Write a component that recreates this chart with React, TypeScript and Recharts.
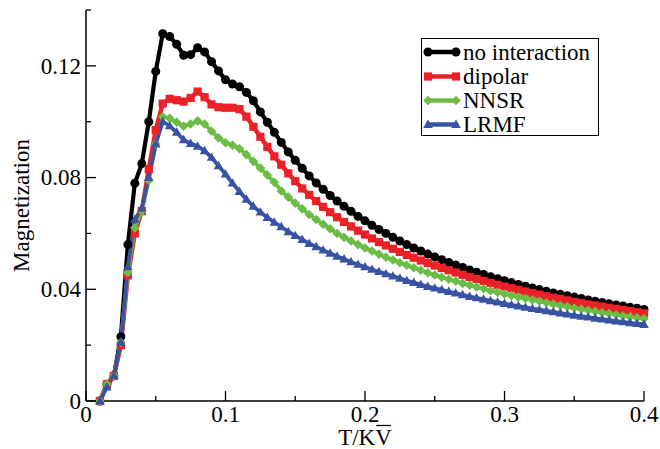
import React from 'react';
import { LineChart, Line, XAxis, YAxis, Legend } from 'recharts';

const T = [0.01, 0.015, 0.02, 0.025, 0.03, 0.035, 0.04, 0.045, 0.05, 0.055, 0.06, 0.065, 0.07, 0.075,
  0.08, 0.085, 0.09, 0.095, 0.1, 0.105, 0.11, 0.115, 0.12, 0.125, 0.13, 0.135, 0.14, 0.145,
  0.15, 0.155, 0.16, 0.165, 0.17, 0.175, 0.18, 0.185, 0.19, 0.195, 0.2, 0.205, 0.21, 0.215,
  0.22, 0.225, 0.23, 0.235, 0.24, 0.245, 0.25, 0.255, 0.26, 0.265, 0.27, 0.275, 0.28, 0.285,
  0.29, 0.295, 0.3, 0.305, 0.31, 0.315, 0.32, 0.325, 0.33, 0.335, 0.34, 0.345, 0.35, 0.355,
  0.36, 0.365, 0.37, 0.375, 0.38, 0.385, 0.39, 0.395, 0.4];

const noInteraction = [0, 0.006, 0.009, 0.023, 0.056, 0.078, 0.085, 0.100, 0.118, 0.1315, 0.1305, 0.1277, 0.1238, 0.1240,
  0.1265, 0.1250, 0.1215, 0.1182, 0.1150, 0.1135, 0.1125, 0.1105, 0.1075, 0.1035, 0.0998, 0.0962, 0.0926, 0.0892,
  0.0862, 0.0833, 0.0806, 0.0781, 0.0758, 0.0736, 0.0716, 0.0697, 0.0679, 0.0661, 0.0645, 0.0629, 0.0614, 0.0600,
  0.0586, 0.0573, 0.0560, 0.0548, 0.0537, 0.0526, 0.0516, 0.0506, 0.0496, 0.0487, 0.0478, 0.0469, 0.0461, 0.0453,
  0.0445, 0.0438, 0.0431, 0.0424, 0.0417, 0.0411, 0.0405, 0.0399, 0.0393, 0.0387, 0.0382, 0.0377, 0.0372, 0.0367,
  0.0362, 0.0357, 0.0353, 0.0348, 0.0344, 0.0340, 0.0336, 0.0332, 0.0328];

const dipolar = [0, 0.006, 0.009, 0.020, 0.045, 0.060, 0.068, 0.083, 0.097, 0.1065, 0.1082, 0.1077, 0.1072, 0.1085,
  0.1108, 0.1088, 0.1062, 0.1052, 0.1050, 0.1050, 0.1045, 0.1018, 0.0982, 0.0946, 0.0910, 0.0876, 0.0846, 0.0815,
  0.0787, 0.0761, 0.0738, 0.0716, 0.0695, 0.0676, 0.0658, 0.0641, 0.0625, 0.0610, 0.0596, 0.0582, 0.0569, 0.0557,
  0.0545, 0.0534, 0.0523, 0.0513, 0.0503, 0.0494, 0.0485, 0.0476, 0.0468, 0.0460, 0.0452, 0.0444, 0.0437, 0.0430,
  0.0423, 0.0416, 0.0410, 0.0404, 0.0398, 0.0392, 0.0386, 0.0381, 0.0375, 0.0370, 0.0365, 0.0360, 0.0355, 0.0351,
  0.0346, 0.0342, 0.0338, 0.0334, 0.0330, 0.0326, 0.0322, 0.0318, 0.0314];

const nnsr = [0, 0.006, 0.009, 0.021, 0.046, 0.062, 0.068, 0.079, 0.092, 0.1018, 0.1012, 0.0998, 0.0984, 0.0992,
  0.1003, 0.0992, 0.0966, 0.0942, 0.0925, 0.0916, 0.0903, 0.0882, 0.0858, 0.0834, 0.0809, 0.0783, 0.0752, 0.0730,
  0.0708, 0.0688, 0.0668, 0.0650, 0.0633, 0.0617, 0.0600, 0.0586, 0.0573, 0.0560, 0.0548, 0.0537, 0.0526, 0.0515,
  0.0505, 0.0495, 0.0486, 0.0477, 0.0468, 0.0459, 0.0451, 0.0443, 0.0436, 0.0429, 0.0421, 0.0415, 0.0408, 0.0402,
  0.0395, 0.0389, 0.0383, 0.0378, 0.0372, 0.0367, 0.0362, 0.0357, 0.0352, 0.0347, 0.0342, 0.0338, 0.0333, 0.0329,
  0.0325, 0.0321, 0.0317, 0.0313, 0.0309, 0.0305, 0.0302, 0.0298, 0.0295];

const lrmf = [0, 0.005, 0.009, 0.021, 0.048, 0.065, 0.069, 0.080, 0.092, 0.1000, 0.0985, 0.0962, 0.0935, 0.0922,
  0.0912, 0.0896, 0.0872, 0.0842, 0.0812, 0.0780, 0.0750, 0.0722, 0.0697, 0.0676, 0.0657, 0.0640, 0.0624, 0.0606,
  0.0592, 0.0578, 0.0564, 0.0552, 0.0540, 0.0529, 0.0518, 0.0508, 0.0498, 0.0489, 0.0480, 0.0471, 0.0463, 0.0455,
  0.0447, 0.0439, 0.0431, 0.0424, 0.0417, 0.0410, 0.0404, 0.0398, 0.0392, 0.0386, 0.0380, 0.0374, 0.0369, 0.0364,
  0.0359, 0.0354, 0.0349, 0.0344, 0.0340, 0.0335, 0.0331, 0.0327, 0.0323, 0.0319, 0.0315, 0.0311, 0.0307, 0.0303,
  0.0300, 0.0296, 0.0293, 0.0290, 0.0286, 0.0283, 0.0280, 0.0277, 0.0274];

const xTicks = [0, 0.05, 0.1, 0.15, 0.2, 0.25, 0.3, 0.35, 0.4];
const xTickLabels = ['0', '', '0.1', '', '0.2', '', '0.3', '', '0.4'];
const yTicks = [0, 0.02, 0.04, 0.06, 0.08, 0.1, 0.12, 0.14];
const yTickLabels = ['0', '', '0.04', '', '0.08', '', '0.12', ''];

const seriesNames = ['no interaction', 'dipolar', 'NNSR', 'LRMF'];
const COLORS = ['#000000', '#ec2027', '#6cbd45', '#3953a4'];

const data = T.map((t, i) => ({ t, a: noInteraction[i], b: dipolar[i], c: nnsr[i], d: lrmf[i] }));

const FONT = 'Liberation Serif, DejaVu Serif, Times New Roman, serif';
const FS = 23;
const MAJ = 10;
const MIN = 5;
const txtStyle = { fontFamily: FONT, fontSize: FS } as React.CSSProperties;

const idxOf = (arr: number[], v: number) => arr.findIndex((a) => Math.abs(a - v) < 1e-9);

const BottomTick = (p: any) => {
  const i = idxOf(xTicks, p.payload.value);
  const lab = xTickLabels[i] || '';
  const len = lab ? MAJ : MIN;
  return (
    <g>
      <line x1={p.x} y1={p.y} x2={p.x} y2={p.y - len} stroke="#000" strokeWidth={1.3} />
      {lab && (
        <text x={p.x} y={p.y + 20.5} textAnchor="middle" style={txtStyle} fill="#000">{lab}</text>
      )}
    </g>
  );
};

const TopTick = (p: any) => {
  const i = idxOf(xTicks, p.payload.value);
  const len = xTickLabels[i] ? MAJ : MIN;
  return <line x1={p.x} y1={p.y} x2={p.x} y2={p.y + len} stroke="#000" strokeWidth={1.3} />;
};

const LeftTick = (p: any) => {
  const i = idxOf(yTicks, p.payload.value);
  const lab = yTickLabels[i] || '';
  const len = lab ? MAJ : MIN;
  return (
    <g>
      <line x1={p.x} y1={p.y} x2={p.x + len} y2={p.y} stroke="#000" strokeWidth={1.3} />
      {lab && (
        <text x={p.x - 5} y={p.y + 7.8} textAnchor="end" style={txtStyle} fill="#000">{lab}</text>
      )}
    </g>
  );
};

const RightTick = (p: any) => {
  const i = idxOf(yTicks, p.payload.value);
  const len = yTickLabels[i] ? MAJ : MIN;
  return <line x1={p.x} y1={p.y} x2={p.x - len} y2={p.y} stroke="#000" strokeWidth={1.3} />;
};

const Marker = ({ kind, cx, cy, color }: { kind: number; cx: number; cy: number; color: string }) => {
  if (kind === 0) return <circle cx={cx} cy={cy} r={4.5} fill={color} />;
  if (kind === 1) return <rect x={cx - 4.1} y={cy - 4.1} width={8.2} height={8.2} fill={color} />;
  if (kind === 2)
    return <polygon points={`${cx},${cy - 4.8} ${cx + 4.8},${cy} ${cx},${cy + 4.8} ${cx - 4.8},${cy}`} fill={color} />;
  return <polygon points={`${cx},${cy - 5} ${cx + 4.8},${cy + 3.4} ${cx - 4.8},${cy + 3.4}`} fill={color} />;
};

const makeDot = (kind: number, color: string) => (p: any) => {
  if (p.cx == null || p.cy == null) return <g key={`d${kind}-${p.index}`} />;
  return (
    <g key={`d${kind}-${p.index}`}>
      <Marker kind={kind} cx={p.cx} cy={p.cy} color={color} />
    </g>
  );
};

const YLabel = (p: any) => {
  const vb = p.viewBox || {};
  const cx = (vb.x || 0) + 28.5;
  const cy = (vb.y || 0) + (vb.height || 0) / 2;
  return (
    <text x={cx} y={cy} transform={`rotate(-90, ${cx}, ${cy})`} textAnchor="middle" style={txtStyle} fill="#000">
      Magnetization
    </text>
  );
};

const XLabel = (p: any) => {
  const vb = p.viewBox || {};
  const cx = (vb.x || 0) + (vb.width || 0) / 2;
  const y = (vb.y || 0) + 44;
  // "T/KV" in a Times-metric font: total 2.333em, V 0.722em at the end
  const half = (2.333 * FS) / 2;
  const vStart = cx + half - 0.722 * FS;
  return (
    <g>
      <text x={cx} y={y} textAnchor="middle" style={txtStyle} fill="#000">T/KV</text>
      <line x1={vStart + 1} y1={y - 19.5} x2={cx + half - 1} y2={y - 19.5} stroke="#000" strokeWidth={1.3} />
    </g>
  );
};

const LegendBox = (props: any) => {
  const payload = [...(props.payload || [])].sort(
    (a: any, b: any) => seriesNames.indexOf(a.value) - seriesNames.indexOf(b.value)
  );
  const rowY = [14, 38.5, 62.5, 86.5];
  return (
    <svg width={178} height={98} style={{ display: 'block' }}>
      <rect x={0.5} y={0.5} width={177} height={97} fill="#fff" stroke="#000" strokeWidth={1} />
      {payload.map((e: any, i: number) => {
        const k = seriesNames.indexOf(e.value);
        return (
          <g key={e.value}>
            <line x1={7} y1={rowY[i]} x2={35} y2={rowY[i]} stroke={COLORS[k]} strokeWidth={4.5} />
            <Marker kind={k} cx={7} cy={rowY[i]} color={COLORS[k]} />
            <Marker kind={k} cx={35} cy={rowY[i]} color={COLORS[k]} />
            <text x={42} y={rowY[i] + 7.5} style={txtStyle} fill="#000">{e.value}</text>
          </g>
        );
      })}
    </svg>
  );
};

export default function App() {
  const keys = ['a', 'b', 'c', 'd'];
  const widths = [4.2, 4.5, 3.8, 3.8];
  return (
    <div style={{ position: 'absolute', left: 0, top: 0, width: 660, height: 449, background: '#fff' }}>
      <LineChart width={660} height={449} data={data} margin={{ top: 10, right: 16, bottom: 18, left: 0 }}>
        <XAxis xAxisId="bottom" dataKey="t" type="number" domain={[0, 0.4]} ticks={xTicks} interval={0} height={30}
          tickSize={0} tickMargin={0} tickLine={false} axisLine={{ stroke: '#000', strokeWidth: 1.5 }}
          tick={<BottomTick />} label={<XLabel />} />
        <XAxis xAxisId="top" orientation="top" dataKey="t" type="number" domain={[0, 0.4]} ticks={xTicks} interval={0}
          height={0} tickSize={0} tickMargin={0} tickLine={false} axisLine={{ stroke: '#000', strokeWidth: 1.5 }}
          tick={<TopTick />} />
        <YAxis yAxisId="left" type="number" domain={[0, 0.14]} ticks={yTicks} interval={0} width={86}
          tickSize={0} tickMargin={0} tickLine={false} axisLine={{ stroke: '#000', strokeWidth: 1.5 }}
          tick={<LeftTick />} label={<YLabel />} />
        <YAxis yAxisId="right" orientation="right" type="number" domain={[0, 0.14]} ticks={yTicks} interval={0}
          width={0} tickSize={0} tickMargin={0} tickLine={false} axisLine={{ stroke: '#000', strokeWidth: 1.5 }}
          tick={<RightTick />} />
        <Legend layout="vertical" align="center" verticalAlign="middle" content={<LegendBox />}
          wrapperStyle={{ left: 421, top: 38, width: 178, height: 98 }} />
        {keys.map((k, i) => (
          <Line key={k} xAxisId="bottom" yAxisId="left" type="linear" dataKey={k} name={seriesNames[i]}
            stroke={COLORS[i]} strokeWidth={widths[i]} dot={makeDot(i, COLORS[i])} activeDot={false}
            isAnimationActive={false} />
        ))}
      </LineChart>
    </div>
  );
}
